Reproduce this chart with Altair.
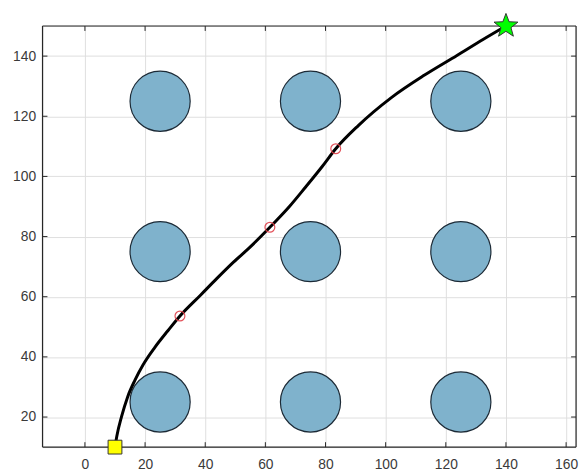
import math
import altair as alt
import pandas as pd

# ---- data ----
x_ticks = [0, 20, 40, 60, 80, 100, 120, 140, 160]
y_ticks = [20, 40, 60, 80, 100, 120, 140]

obs_x = [25, 75, 125, 25, 75, 125, 25, 75, 125]
obs_y = [25, 25, 25, 75, 75, 75, 125, 125, 125]
obs_r = 10

path_x = [10.0, 10.6, 12.2, 14.2, 16.6, 19.3, 23.2, 27.5, 31.6, 38.5, 43.9, 49.4, 54.9,
          61.5, 68.0, 73.4, 78.9, 83.4, 90.9, 101.9, 112.8, 123.7, 132.5, 140.0]
path_y = [10.0, 13.6, 20.2, 26.7, 32.2, 37.3, 43.1, 48.6, 53.6, 60.6, 66.1, 71.5, 76.5,
          83.1, 90.0, 96.5, 103.3, 109.2, 116.9, 126.2, 133.6, 140.2, 145.6, 150.0]

wp_x = [31.6, 61.5, 83.4]
wp_y = [53.6, 83.1, 109.2]

start_x, start_y = [10], [10]
goal_x, goal_y = [140], [150]

X_DOM = [-14.1, 163.3]
Y_DOM = [10, 150]
W, H = 541, 427
PX = W / (X_DOM[1] - X_DOM[0])

# five-pointed star symbol (marker shape only)
pts = []
for k in range(10):
    r = 1.0 if k % 2 == 0 else 0.42
    a = -math.pi / 2 + k * math.pi / 5
    pts.append(f"{r * math.cos(a):.3f},{r * math.sin(a):.3f}")
STAR = "M" + " L".join(pts) + " Z"

xs = alt.Scale(domain=X_DOM, nice=False, zero=False)
ys = alt.Scale(domain=Y_DOM, nice=False, zero=False)

AX = dict(grid=True, gridColor="#dedede", domain=False, ticks=False,
          labelFont="Liberation Sans", labelFontSize=14, labelColor="#3a3a3a",
          title=None)
XA = alt.Axis(values=x_ticks, orient="bottom", labelPadding=11, **AX)
YA = alt.Axis(values=y_ticks, orient="left", labelPadding=7, **AX)


def X(f):
    return alt.X(f, scale=xs, axis=XA)


def Y(f):
    return alt.Y(f, scale=ys, axis=YA)


obs = pd.DataFrame({"x": obs_x, "y": obs_y})
path = pd.DataFrame({"x": path_x, "y": path_y, "i": list(range(len(path_x)))})
wps = pd.DataFrame({"x": wp_x, "y": wp_y})
start = pd.DataFrame({"x": start_x, "y": start_y})
goal = pd.DataFrame({"x": goal_x, "y": goal_y})
xt = pd.DataFrame({"x": x_ticks})
yt = pd.DataFrame({"y": y_ticks})
one = pd.DataFrame({"k": [0]})

FRAME = "#262626"
tick_len = 5
xt_bot = alt.Chart(xt).mark_rule(color=FRAME, strokeWidth=1).encode(
    x=X("x:Q"), y=alt.value(H), y2=alt.value(H - tick_len))
xt_top = alt.Chart(xt).mark_rule(color=FRAME, strokeWidth=1).encode(
    x=X("x:Q"), y=alt.value(0), y2=alt.value(tick_len))
yt_left = alt.Chart(yt).mark_rule(color=FRAME, strokeWidth=1).encode(
    y=Y("y:Q"), x=alt.value(0), x2=alt.value(tick_len))
yt_right = alt.Chart(yt).mark_rule(color=FRAME, strokeWidth=1).encode(
    y=Y("y:Q"), x=alt.value(W), x2=alt.value(W - tick_len))

frame = [
    alt.Chart(one).mark_rule(color=FRAME, strokeWidth=1.2).encode(
        x=alt.value(0), y=alt.value(0), y2=alt.value(H)),
    alt.Chart(one).mark_rule(color=FRAME, strokeWidth=1.2).encode(
        x=alt.value(W), y=alt.value(0), y2=alt.value(H)),
    alt.Chart(one).mark_rule(color=FRAME, strokeWidth=1.2).encode(
        y=alt.value(0), x=alt.value(0), x2=alt.value(W)),
    alt.Chart(one).mark_rule(color=FRAME, strokeWidth=1.2).encode(
        y=alt.value(H), x=alt.value(0), x2=alt.value(W)),
]

d = 2 * obs_r * PX
obstacles = alt.Chart(obs).mark_point(
    shape="circle", filled=True, fill="#7fb2cc", stroke="#1c2a36", strokeWidth=1.2,
    size=d * d, opacity=1).encode(x=X("x:Q"), y=Y("y:Q"))

line = alt.Chart(path).mark_line(color="black", strokeWidth=3, interpolate="monotone").encode(
    x=X("x:Q"), y=Y("y:Q"), order="i:Q")

waypts = alt.Chart(wps).mark_point(
    shape="circle", filled=False, stroke="#e0404a", strokeWidth=1.2, size=100, opacity=0.9).encode(
    x=X("x:Q"), y=Y("y:Q"))

start_m = alt.Chart(start).mark_point(
    shape="square", filled=True, fill="#ffff00", stroke="#333333", strokeWidth=1,
    size=196, opacity=1).encode(x=X("x:Q"), y=Y("y:Q"))

goal_m = alt.Chart(goal).mark_point(
    shape=STAR, filled=True, fill="#00ff00", stroke="#333333", strokeWidth=1,
    size=650, opacity=1).encode(x=X("x:Q"), y=Y("y:Q"))

chart = alt.layer(
    obstacles, xt_bot, xt_top, yt_left, yt_right, *frame, line, waypts, start_m, goal_m
).properties(
    width=W, height=H,
    autosize=alt.AutoSizeParams(type="none"),
    padding={"left": 35, "top": 15, "right": 3, "bottom": 25},
).configure_view(strokeWidth=0, clip=False).configure(background="white")

chart.save("out.html", embed_options={"renderer": "svg", "actions": False})
